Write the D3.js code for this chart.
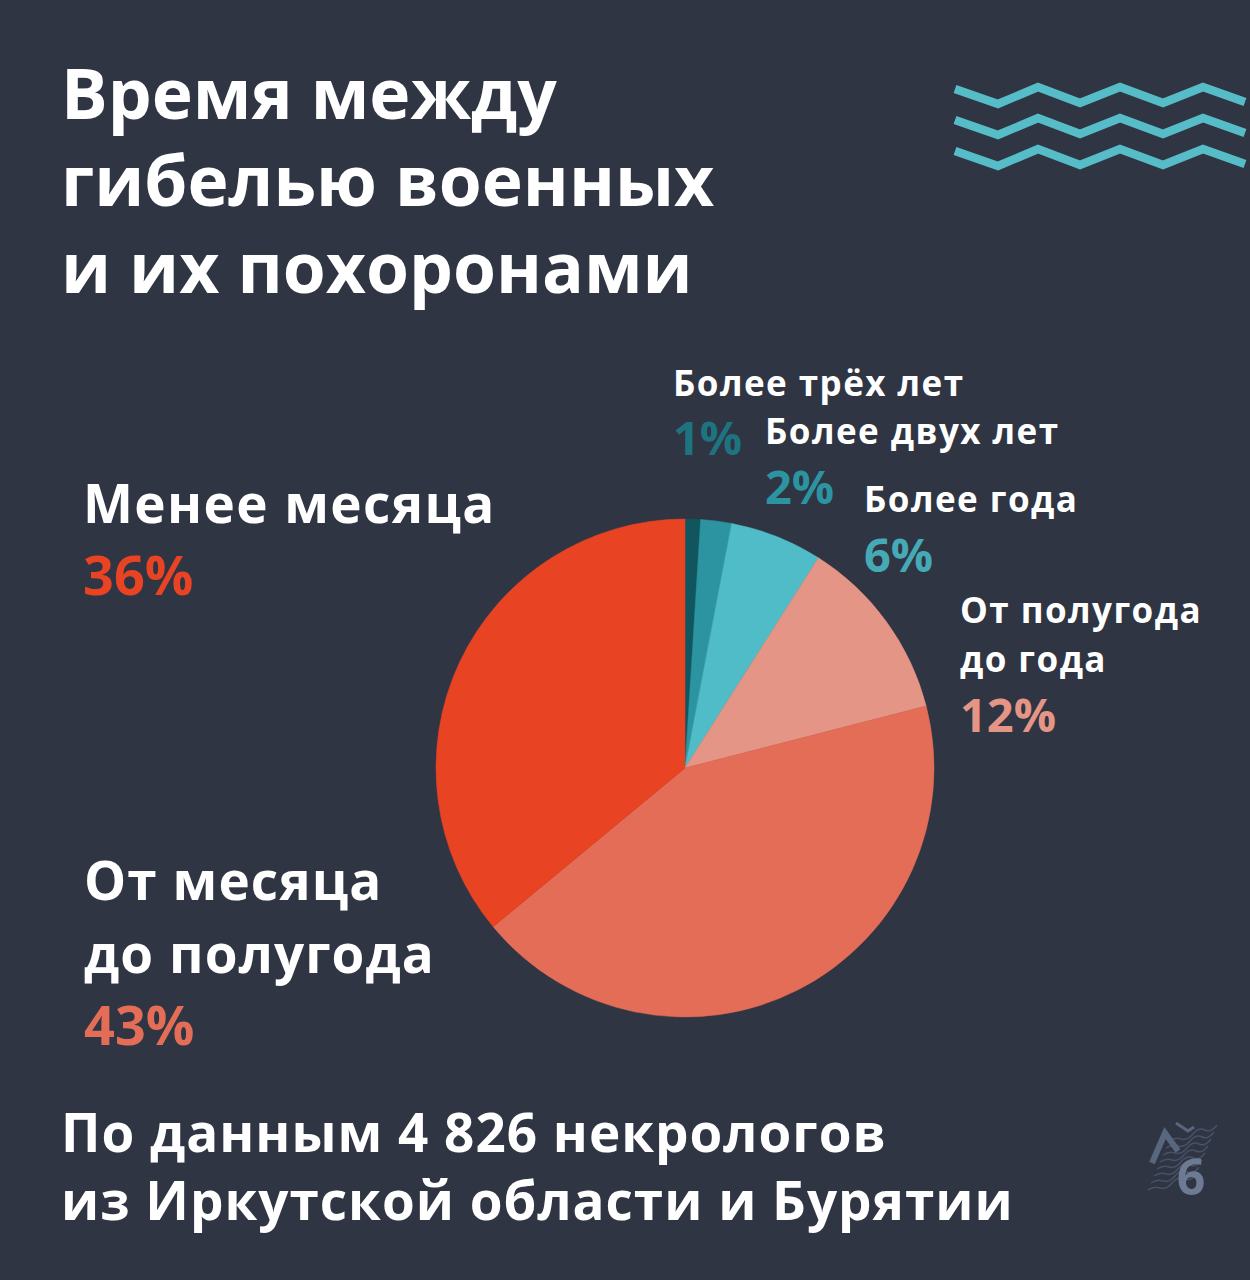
<!DOCTYPE html>
<html>
<head>
<meta charset="utf-8">
<script src="https://cdn.jsdelivr.net/npm/d3@7"></script>
<style>
html, body { margin: 0; padding: 0; background: #2f3542; }
svg { display: block; }
text { font-family: "Open Sans", sans-serif; }
</style>
</head>
<body>
<svg width="1250" height="1280"></svg>
<script>
var categories = ['Более трёх лет', 'Более двух лет', 'Более года', 'От полугода до года', 'От месяца до полугода', 'Менее месяца'];
var values = [1, 2, 6, 12, 43, 36];
var colors = ['#11565e', '#2c94a1', '#4fbcc8', '#e59585', '#e46d57', '#e84323'];
var pctColors = ['#1d7480', '#2c94a1', '#45aab6', '#e59585', '#e46d57', '#e84323'];
var titleLines = ['Время между', 'гибелью военных', 'и их похоронами'];
var footLines = ['По данным 4 826 некрологов', 'из Иркутской области и Бурятии'];

// label blocks: text lines, then percent
var labels = [
	{i: 0, x: 673, lines: [[396, 'Более трёх лет']], py: 455, fs: 35, ls: 1.45, pfs: 47},
	{i: 1, x: 765, lines: [[444, 'Более двух лет']], py: 504, fs: 35, ls: 1.45, pfs: 47},
	{i: 2, x: 864, lines: [[512, 'Более года']], py: 572, fs: 35, ls: 1.45, pfs: 47},
	{i: 3, x: 960, lines: [[623, 'От полугода'], [672, 'до года']], py: 732, fs: 35, ls: 1.45, pfs: 47},
	{i: 4, x: 84, lines: [[900, 'От месяца'], [973, 'до полугода']], py: 1045, fs: 53, ls: 1.1, pfs: 54},
	{i: 5, x: 83, lines: [[523, 'Менее месяца']], py: 595, fs: 53, ls: 1.4, pfs: 54}
];

var waveX = [955, 998, 1038, 1080, 1120, 1163, 1203, 1245];
var waveY = [89, 104, 87, 103, 87, 103, 87, 102];
var waveOffsets = [0, 31, 62];

var svg = d3.select('svg');

svg.append('g').selectAll('text')
	.data(titleLines)
	.join('text')
	.attr('x', 61)
	.attr('y', function(d, i){ return 119 + i * 87; })
	.attr('font-size', 69.5)
	.attr('font-weight', 700)
	.attr('fill', '#fff')
	.text(function(d){ return d; });

// zigzag decoration
var zig = d3.line()
	.x(function(d){ return d[0]; })
	.y(function(d){ return d[1]; });
svg.append('g').selectAll('path')
	.data(waveOffsets)
	.join('path')
	.attr('d', function(off){
		return zig(waveX.map(function(x, i){ return [x, waveY[i] + off]; }));
	})
	.attr('fill', 'none')
	.attr('stroke', '#55bcc8')
	.attr('stroke-width', 8.5);

// pie
var pie = d3.pie().sort(null)(values);
var arc = d3.arc().innerRadius(0).outerRadius(249);
svg.append('g')
	.attr('transform', 'translate(685,768)')
	.selectAll('path')
	.data(pie)
	.join('path')
	.attr('d', arc)
	.attr('fill', function(d, i){ return colors[i]; })
	.attr('stroke', function(d, i){ return colors[i]; })
	.attr('stroke-width', 0.5);

labels.forEach(function(l){
	var g = svg.append('g');
	l.lines.forEach(function(t){
		g.append('text')
			.attr('x', l.x).attr('y', t[0])
			.attr('font-size', l.fs)
			.attr('font-weight', 700)
			.attr('letter-spacing', l.ls)
			.attr('fill', '#fff')
			.text(t[1]);
	});
	g.append('text')
		.attr('x', l.x).attr('y', l.py)
		.attr('font-size', l.pfs)
		.attr('font-weight', 700)
		.attr('fill', pctColors[l.i])
		.text(values[l.i] + '%');
});

svg.append('g').selectAll('text')
	.data(footLines)
	.join('text')
	.attr('x', 61)
	.attr('y', function(d, i){ return 1152 + i * 68; })
	.attr('font-size', 53)
	.attr('font-weight', 700)
	.attr('letter-spacing', 1)
	.attr('fill', '#fff')
	.text(function(d){ return d; });

// logo mark
var logo = svg.append('g').attr('fill', 'none').attr('stroke', '#596680');
logo.append('path').attr('d', 'M1152 1163 L1165 1133 L1178 1151').attr('stroke-width', 6);
logo.append('path').attr('d', 'M1176 1123 L1188 1131 L1194 1127').attr('stroke-width', 3);
d3.range(8).forEach(function(k){
	logo.append('path')
		.attr('d', 'M' + (1148 + k * 3) + ' ' + (1190 - k * 7) + ' q6 -4 12 -2 t12 -5 t12 -4 t12 -5')
		.attr('stroke-width', 1.5)
		.attr('opacity', 0.6);
});
svg.append('text')
	.attr('x', 1191).attr('y', 1195)
	.attr('text-anchor', 'middle')
	.attr('font-size', 50)
	.attr('font-weight', 700)
	.attr('fill', '#6c7a94')
	.text('6');
</script>
</body>
</html>
